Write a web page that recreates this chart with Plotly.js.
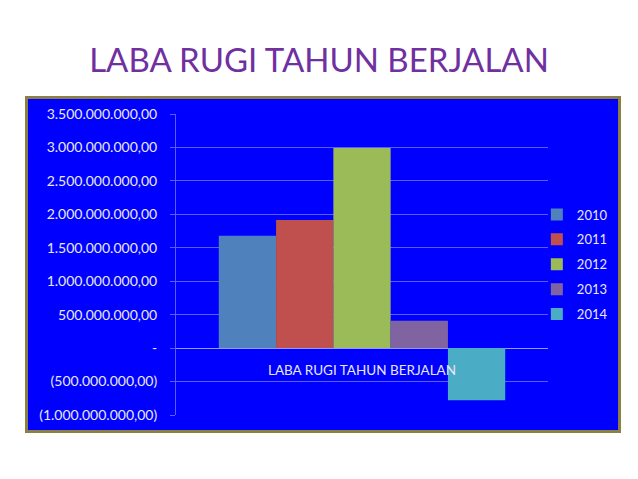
<!DOCTYPE html>
<html>
<head>
<meta charset="utf-8">
<script src="https://cdn.plot.ly/plotly-3.0.1.min.js"></script>
<style>html,body{margin:0;padding:0;background:#fff;}#chart{width:638px;height:479px;}</style>
</head>
<body>
<div id="chart"></div>
<script>
// ---- data ----
const categories = ["LABA RUGI TAHUN BERJALAN"];
const seriesNames = ["2010", "2011", "2012", "2013", "2014"];
const v2010 = [1680000000];
const v2011 = [1915000000];
const v2012 = [2990000000];
const v2013 = [410000000];
const v2014 = [-780000000];
const yTickVals = [-1000000000, -500000000, 0, 500000000, 1000000000, 1500000000, 2000000000, 2500000000, 3000000000, 3500000000];
const yTickText = ["(1.000.000.000,00)", "(500.000.000,00)", "-", "500.000.000,00", "1.000.000.000,00", "1.500.000.000,00", "2.000.000.000,00", "2.500.000.000,00", "3.000.000.000,00", "3.500.000.000,00"];
const yRange = [-1000000000, 3500000000];

const seriesValues = [v2010, v2011, v2012, v2013, v2014];
const colors = ["#4F81BD", "#C0504D", "#9BBB59", "#8064A2", "#4BACC6"];

const traces = seriesNames.map((name, i) => ({
  type: "bar",
  name: name,
  x: categories,
  y: seriesValues[i],
  marker: {color: colors[i]},
  legendgroup: "g" + i,
  hoverinfo: "y+name"
}));

const gridColor = "rgba(170,170,255,0.55)";
const zeroPos = (0 - yRange[0]) / (yRange[1] - yRange[0]);

const layout = {
  width: 638,
  height: 479,
  margin: {l: 176, r: 90, t: 114, b: 64},
  paper_bgcolor: "#ffffff",
  plot_bgcolor: "rgba(0,0,0,0)",
  font: {family: "Lato, 'Open Sans', sans-serif", color: "#E8E8F4", size: 13},
  title: {
    text: "LABA RUGI TAHUN BERJALAN",
    font: {family: "Lato, 'Open Sans', sans-serif", size: 33, color: "#7030A0"},
    x: 0.5, xref: "container", xanchor: "center",
    y: 1 - 60 / 479, yref: "container", yanchor: "middle"
  },
  barmode: "group",
  bargap: 0.23,
  bargroupgap: 0,
  showlegend: true,
  legend: {
    x: 0.97, xanchor: "left", y: 0.5, yanchor: "middle",
    bgcolor: "rgba(0,0,0,0)",
    font: {size: 13, color: "#E8E8F4"},
    traceorder: "grouped",
    tracegroupgap: 5
  },
  xaxis: {
    anchor: "free",
    position: zeroPos,
    showline: false,
    showgrid: false,
    ticks: "outside",
    ticklen: 10,
    tickcolor: "rgba(0,0,0,0)",
    tickfont: {size: 13.5, color: "#E8E8F4"},
    fixedrange: true
  },
  yaxis: {
    range: yRange,
    tickvals: yTickVals,
    ticktext: yTickText,
    showgrid: true,
    gridcolor: gridColor,
    gridwidth: 1,
    zeroline: true,
    zerolinecolor: "rgba(190,190,255,0.8)",
    zerolinewidth: 1,
    showline: true,
    linecolor: gridColor,
    linewidth: 1,
    ticks: "outside",
    ticklen: 5,
    tickcolor: gridColor,
    ticklabelstandoff: 10,
    tickfont: {size: 14, color: "#E8E8F4"},
    fixedrange: true
  },
  shapes: [{
    type: "rect",
    xref: "paper", yref: "paper",
    x0: (26.5 - 176) / 372, x1: (619.5 - 176) / 372,
    y0: (415 - 431.5) / 301, y1: (415 - 97.5) / 301,
    fillcolor: "#0000FF",
    line: {color: "#8C7F45", width: 3},
    layer: "below"
  }]
};

Plotly.newPlot("chart", traces, layout, {displayModeBar: false, staticPlot: true});
</script>
</body>
</html>
